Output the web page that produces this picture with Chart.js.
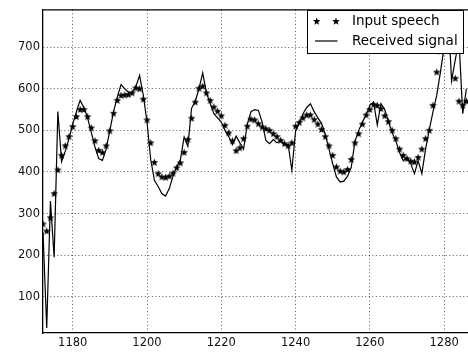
<!DOCTYPE html>
<html>
<head>
<meta charset="utf-8">
<script src="https://cdn.jsdelivr.net/npm/chart.js@4.4.1/dist/chart.umd.min.js"></script>
<style>
  html, body { margin: 0; padding: 0; background: #fff; overflow: hidden; }
  #wrap { width: 468px; height: 354px; overflow: hidden; }
</style>
</head>
<body>
<div id="wrap"><canvas id="speechChart" width="490" height="354"></canvas></div>
<script>
// sample index of the first value
const firstSample = 1172;

// input speech (stars), one value per sample 1172..1286
const inputSpeech = [
    275, 258, 290, 348, 405, 440, 463, 485, 509, 533,
    550, 550, 533, 506, 475, 452, 447, 463, 499, 541,
    572, 584, 585, 586, 590, 602, 600, 575, 525, 470,
    423, 396, 388, 387, 390, 397, 410, 422, 447, 478,
    529, 568, 601, 606, 590, 572, 556, 546, 535, 512,
    494, 475, 451, 458, 480, 510, 527, 525, 516, 508,
    504, 500, 492, 485, 476, 468, 463, 470, 510, 519,
    530, 537, 537, 526, 515, 502, 485, 463, 440, 412,
    402, 400, 406, 430, 470, 492, 515, 537, 550, 562,
    560, 552, 535, 521, 500, 480, 455, 440, 432, 426,
    424, 435, 455, 480, 500, 560, 640, 690, 720, 730,
    690, 625, 570, 560, 570
];

// received signal (solid line)
const receivedSignal = [
    255, 25, 330, 195, 545, 425, 450, 480, 515, 545,
    572, 555, 530, 495, 460, 432, 428, 455, 500, 545,
    580, 610, 600, 592, 590, 605, 632, 585, 520, 430,
    380, 365, 348, 342, 360, 390, 412, 430, 484, 462,
    553, 570, 600, 638, 590, 565, 540, 530, 520, 500,
    485, 466, 486, 470, 455, 515, 545, 550, 548, 520,
    476, 468, 478, 470, 475, 466, 466, 404, 498, 517,
    540, 555, 564, 545, 530, 517, 490, 455, 420, 388,
    376, 378, 390, 412, 474, 500, 520, 537, 560, 568,
    513, 564, 550, 521, 495, 474, 447, 427, 435, 420,
    396, 427, 396, 455, 502, 545, 584, 640, 700, 800,
    619, 670, 717, 540, 600
];

const xTicks = [1180, 1200, 1220, 1240, 1260, 1280];
const yTicks = [100, 200, 300, 400, 500, 600, 700];

function toPoints(values) {
    return values.map((v, i) => ({ x: firstSample + i, y: v }));
}

function drawStar(g, cx, cy, outer, inner) {
    g.beginPath();
    for (let i = 0; i < 10; i++) {
        const r = i % 2 ? inner : outer;
        const a = -Math.PI / 2 + i * Math.PI / 5;
        const px = cx + r * Math.cos(a), py = cy + r * Math.sin(a);
        if (i === 0) g.moveTo(px, py); else g.lineTo(px, py);
    }
    g.closePath();
    g.fill();
}

// filled five point star used as marker
const starImg = document.createElement('canvas');
starImg.width = 9;
starImg.height = 9;
const sg = starImg.getContext('2d');
sg.fillStyle = '#000';
drawStar(sg, 4.5, 4.7, 4.0, 1.7);

// top spine and the boxed legend in the upper right corner
const frameAndLegend = {
    id: 'frameAndLegend',
    afterDraw(chart) {
        const ctx = chart.ctx;
        const a = chart.chartArea;
        ctx.save();
        ctx.strokeStyle = '#000';
        ctx.lineWidth = 1.3;
        ctx.beginPath();
        ctx.moveTo(a.left, a.top);
        ctx.lineTo(a.right, a.top);
        ctx.stroke();

        const bx = 307.5, by = 10.5, bw = 156, bh = 43;
        ctx.fillStyle = '#fff';
        ctx.fillRect(bx, by, bw, bh);
        ctx.lineWidth = 1;
        ctx.strokeRect(bx, by, bw, bh);

        ctx.fillStyle = '#000';
        drawStar(ctx, 316.7, 21.5, 4.0, 1.7);
        drawStar(ctx, 336, 21.5, 4.0, 1.7);
        ctx.lineWidth = 1.2;
        ctx.beginPath();
        ctx.moveTo(315, 41);
        ctx.lineTo(337.5, 41);
        ctx.stroke();

        ctx.font = '13.5px "DejaVu Sans"';
        ctx.textBaseline = 'middle';
        ctx.textAlign = 'left';
        ctx.fillText('Input speech', 352, 21);
        ctx.fillText('Received signal', 352, 41);
        ctx.restore();
    }
};

const tickFont = { family: 'DejaVu Sans', size: 11.5 };
const gridOpts = { color: 'rgba(0,0,0,0.65)', lineWidth: 1, drawTicks: false };
const borderOpts = { color: '#000', width: 1.3, dash: [1, 2.5] };

new Chart(document.getElementById('speechChart').getContext('2d'), {
    type: 'scatter',
    data: {
        datasets: [{
            label: 'Input speech',
            data: toPoints(inputSpeech),
            showLine: false,
            pointStyle: starImg,
            pointRadius: 4,
            pointHoverRadius: 4
        }, {
            label: 'Received signal',
            data: toPoints(receivedSignal),
            showLine: true,
            borderColor: '#000',
            borderWidth: 1.2,
            pointRadius: 0,
            pointHoverRadius: 0,
            tension: 0
        }]
    },
    options: {
        responsive: false,
        animation: false,
        layout: { padding: { top: 3, left: 0, right: 0, bottom: 0 } },
        plugins: {
            legend: { display: false },
            tooltip: { enabled: false }
        },
        scales: {
            x: {
                type: 'linear',
                min: 1172,
                max: 1291,
                grid: gridOpts,
                border: borderOpts,
                afterBuildTicks: s => { s.ticks = xTicks.map(v => ({ value: v })); },
                afterFit: s => { s.height = 21; },
                ticks: { color: '#111', font: tickFont, padding: 3, maxRotation: 0, callback: v => String(v) }
            },
            y: {
                min: 13,
                max: 789.5,
                grid: gridOpts,
                border: borderOpts,
                afterBuildTicks: s => { s.ticks = yTicks.map(v => ({ value: v })); },
                afterFit: s => { s.width = 43; },
                ticks: { color: '#111', font: tickFont, padding: 3, callback: v => String(v) }
            }
        }
    },
    plugins: [frameAndLegend]
});
</script>
</body>
</html>
